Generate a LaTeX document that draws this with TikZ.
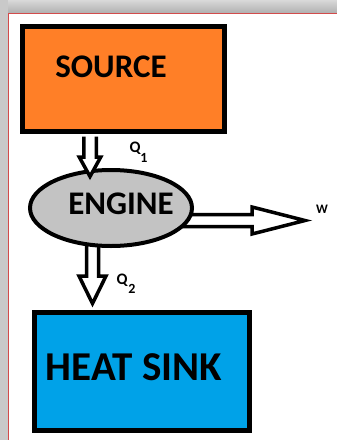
\documentclass[tikz,border=0pt]{standalone}
\usepackage{fontspec}
\setmainfont{Carlito}
\usetikzlibrary{shapes.geometric,calc,backgrounds}
\definecolor{srcorange}{HTML}{FF7F27}
\definecolor{enggray}{HTML}{C3C3C3}
\definecolor{sinkblue}{HTML}{00A2E8}
\definecolor{framered}{HTML}{D24B4B}

\begin{document}
\begin{tikzpicture}[x=1pt, y=-1pt,
    blk/.style={draw, line width=5pt, inner sep=0pt},
    ttl/.style={font=\bfseries\fontsize{33}{33}\selectfont, inner sep=0pt},
    flow/.style={draw, line width=3.5pt, fill=white, line join=miter},
    qlbl/.style={font=\bfseries\fontsize{16}{16}\selectfont, inner sep=0pt},
    sublbl/.style={font=\bfseries\fontsize{14}{14}\selectfont, inner sep=0pt}]
  \useasboundingbox (0,0) rectangle (337,440);
  % --- window frame ---
  \shade[top color=gray!30, bottom color=gray!62] (0,0) rectangle (337,13);
  \fill[gray!42] (0,0) rectangle (8,440);
  \draw[framered, line width=1pt] (8.5,440) -- (8.5,13.5) -- (337,13.5);
  % --- boxes ---
  \node[blk, fill=srcorange, minimum width=202, minimum height=105] (src) at (123.5,79) {};
  \node[ttl] (srctxt) at (111,67) {SOURCE};
  \node[blk, ellipse, line width=4pt, fill=enggray, minimum width=162, minimum height=76] (eng) at (111,208) {};
  \node[ttl] (engtxt) at (121,204) {ENGINE};
  \node[blk, fill=sinkblue, minimum width=215, minimum height=118] (sink) at (142,371.5) {};
  \node[ttl, font=\bfseries\fontsize{41}{41}\selectfont] (sinktxt) at (134,367) {HEAT SINK};
  % --- block arrows ---
  \coordinate (q1s) at ($(src.south)+(-33.5,2.5)$);
  \coordinate (q1t) at (90,176.5);
  \draw[flow] ($(q1s)+(-6.25,0)$) -- ($(q1t)+(-6.25,-19.5)$) -- ($(q1t)+(-10.75,-19.5)$) -- (q1t)
    -- ($(q1t)+(10.75,-19.5)$) -- ($(q1t)+(6.25,-19.5)$) -- ($(q1s)+(6.25,0)$);
  \begin{scope}[on background layer]
    \coordinate (q2t) at ($(sink.north)+(-49.5,-6.5)$);
    \draw[flow] ($(eng.center)+(-24.5,0)$) -- ($(q2t)+(-6,-27.5)$) -- ($(q2t)+(-13.5,-27.5)$) -- (q2t)
      -- ($(q2t)+(13.5,-27.5)$) -- ($(q2t)+(6,-27.5)$) -- ($(eng.center)+(-12.5,0)$);
    \coordinate (wt) at (305,220.5);
    \draw[flow] ($(eng.center |- wt)+(0,6)$) -- ($(wt)+(-53,6)$) -- ($(wt)+(-53,13.5)$) -- (wt)
      -- ($(wt)+(-53,-13.5)$) -- ($(wt)+(-53,-6)$) -- ($(eng.center |- wt)+(0,-6)$);
  \end{scope}
  % --- labels ---
  \node[qlbl] (q1) at (135,148) {Q};
  \node[sublbl] (q1sub) at (144,158) {1};
  \node[qlbl] (q2) at (122,280) {Q};
  \node[sublbl] (q2sub) at (132,289) {2};
  \node[qlbl, font=\bfseries\fontsize{13}{13}\selectfont] (w) at (322,209) {W};
\end{tikzpicture}
\end{document}
